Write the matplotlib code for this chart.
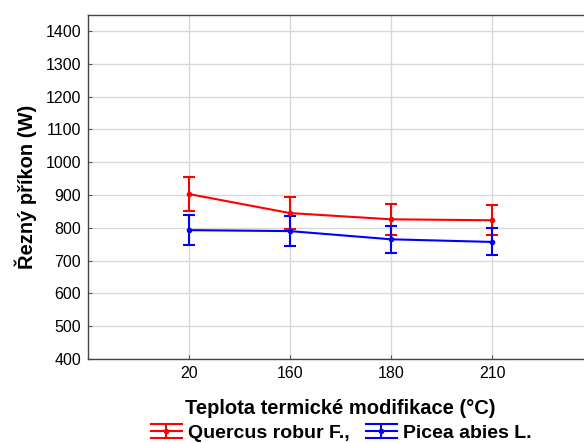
import matplotlib
matplotlib.use("Agg")
import matplotlib.pyplot as plt
import numpy as np
from matplotlib.legend_handler import HandlerBase
from matplotlib.lines import Line2D
from matplotlib.container import ErrorbarContainer

plt.rcParams['font.family'] = ['Liberation Sans', 'DejaVu Sans']

categories = ["20", "160", "180", "210"]
quercus = [903, 845, 826, 823]
quercus_err = [52, 48, 47, 46]
picea = [793, 790, 765, 757]
picea_err = [46, 45, 42, 41]
yticks = [400, 500, 600, 700, 800, 900, 1000, 1100, 1200, 1300, 1400]


class ErrHandler(HandlerBase):
    def create_artists(self, legend, orig, xd, yd, w, h, fontsize, trans):
        color = orig.lines[0].get_color()
        cy = h / 2 - yd
        x0, x1 = -xd, w - xd
        dy = 7 * 72 / 100
        arts = []
        for yy in (cy - dy, cy, cy + dy):
            arts.append(Line2D([x0, x1], [yy, yy], color=color, lw=1.5, transform=trans))
        xm = (x0 + x1) / 2
        arts.append(Line2D([xm, xm], [cy - dy, cy + dy], color=color, lw=1.5, transform=trans))
        arts.append(Line2D([xm], [cy], color=color, marker='o', ms=3, transform=trans))
        return arts


fig = plt.figure(figsize=(5.84, 4.43), dpi=100)
ax = fig.add_axes([88/584, 1-359/443, (593-88)/584, (359-15)/443])

x = np.arange(1, len(categories)+1)
e1 = ax.errorbar(x, quercus, yerr=quercus_err, color='#ff0000', lw=1.5, marker='o', ms=3,
                 capsize=4.3, capthick=1.5, elinewidth=1.5, label='Quercus robur F.,', zorder=3)
e2 = ax.errorbar(x, picea, yerr=picea_err, color='#0000ff', lw=1.5, marker='o', ms=3,
                 capsize=4.3, capthick=1.5, elinewidth=1.5, label='Picea abies L.', zorder=3)

ax.set_xlim(0, 5)
ax.set_ylim(400, 1449)
ax.set_xticks(x)
ax.set_xticklabels(categories)
ax.set_yticks(yticks)
ax.tick_params(labelsize=11.5, length=3, color='#555555', direction='in', pad=5)
ax.grid(True, color='#d9d9d9', lw=1)
ax.set_axisbelow(True)
for s in ax.spines.values():
    s.set_color('#444444')
    s.set_linewidth(1)

ax.set_ylabel('Řezný příkon (W)', fontsize=14.5, fontweight='bold', labelpad=6)
fig.text(340/584, 1-409/443, 'Teplota termické modifikace (°C)', fontsize=14.5,
         fontweight='bold', ha='center', va='center')
fig.legend(handles=[e1, e2], loc='center', bbox_to_anchor=(341/584, 1-433/443), ncol=2,
           frameon=False, prop={'weight': 'bold', 'size': 14}, handlelength=1.6,
           handletextpad=0.3, columnspacing=0.85, borderpad=0,
           handler_map={ErrorbarContainer: ErrHandler()})

fig.savefig('out.png', dpi=100)
